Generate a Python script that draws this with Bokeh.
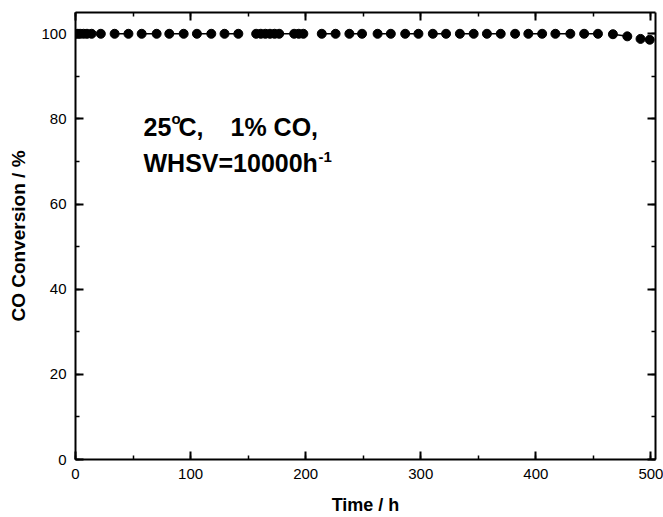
from bokeh.plotting import figure
from bokeh.models import LinearAxis, Range1d, SingleIntervalTicker, Label
from bokeh.embed import file_html
from bokeh.resources import INLINE

# ---------------- data ----------------
time_h = [0, 2, 4, 7, 10, 14,
          22,
          34, 46, 57.5, 70.5, 81.5, 94, 105.5, 118, 129.5, 141.5,
          157, 161, 165, 169, 173, 177, 190, 194, 198,
          214, 226, 238, 249, 262.5, 274, 286.5, 298, 310.5, 322,
          334, 346, 357.5, 369.5,
          382,
          393.5, 405.5, 417, 430, 442, 454, 467, 479.5, 491, 499]
conversion = [100, 100, 100, 100, 100, 100,
              100,
              100, 100, 100, 100, 100, 100, 100, 100, 100, 100,
              100, 100, 100, 100, 100, 100, 100, 100, 100,
              100, 100, 100, 100, 100, 100, 100, 100, 100, 100,
              100, 100, 100, 100,
              100,
              100, 100, 100, 100, 100, 100, 99.9, 99.4, 98.8, 98.6]
# measurement runs: points of one run are joined by a line
run_id = [0, 0, 0, 0, 0, 0,
          1,
          2, 2, 3, 3, 4, 4, 5, 5, 6, 6,
          7, 7, 7, 7, 7, 7, 7, 7, 7,
          8, 8, 9, 9, 10, 10, 11, 11, 12, 12,
          13, 13, 14, 14,
          15,
          16, 16, 17, 17, 18, 18, 19, 19, 20, 20]

x_major = 100
y_major = 20
x_lim = (0, 504)
y_lim = (0, 105)

x_title = "Time / h"
y_title = "CO Conversion / %"

# ---------------- layout constants ----------------
W, H = 663, 517
FL, FR, FT, FB = 75, 655, 12, 460   # frame edges in canvas px
FONT = "Liberation Sans"

p = figure(width=W, height=H, output_backend="svg", toolbar_location=None,
           x_range=Range1d(*x_lim), y_range=Range1d(*y_lim),
           x_axis_location=None, y_axis_location=None,
           min_border_left=FL, min_border_right=W - FR,
           min_border_top=FT, min_border_bottom=H - FB,
           background_fill_color="white", border_fill_color="white",
           margin=(0, 0, -8, 0))
p.grid.visible = False
p.outline_line_color = None


def style_axis(ax, show_labels):
    ax.axis_line_width = 2
    ax.axis_line_color = "black"
    ax.major_tick_line_color = "black"
    ax.minor_tick_line_color = "black"
    ax.major_tick_line_width = 2
    ax.minor_tick_line_width = 1.5
    ax.major_tick_in = 8
    ax.major_tick_out = 0
    ax.minor_tick_in = 4
    ax.minor_tick_out = 0
    ax.major_label_text_font = FONT
    if show_labels:
        ax.major_label_text_color = "black"
        ax.major_label_text_font_size = "15px"
        ax.major_label_standoff = 9
    else:
        ax.major_label_text_color = None
        ax.major_label_text_font_size = "0px"
        ax.major_label_standoff = 0
    return ax


xb = style_axis(LinearAxis(ticker=SingleIntervalTicker(interval=x_major, num_minor_ticks=2)), True)
xb.axis_label = x_title
xb.axis_label_text_font = FONT
xb.axis_label_text_font_style = "bold"
xb.axis_label_text_font_size = "18px"
xb.axis_label_text_color = "black"
xb.axis_label_standoff = 13
p.add_layout(xb, "below")

yl = style_axis(LinearAxis(ticker=SingleIntervalTicker(interval=y_major, num_minor_ticks=2)), True)
yl.axis_label = y_title
yl.axis_label_text_font = FONT
yl.axis_label_text_font_style = "bold"
yl.axis_label_text_font_size = "19px"
yl.axis_label_text_color = "black"
yl.axis_label_standoff = 9
p.add_layout(yl, "left")

xt = style_axis(LinearAxis(ticker=SingleIntervalTicker(interval=x_major, num_minor_ticks=2)), False)
p.add_layout(xt, "above")
yr = style_axis(LinearAxis(ticker=SingleIntervalTicker(interval=y_major, num_minor_ticks=2)), False)
p.add_layout(yr, "right")

# ---------------- data glyphs ----------------
xs, ys = [], []
for rid in sorted(set(run_id)):
    xs.append([t for t, r in zip(time_h, run_id) if r == rid])
    ys.append([c for c, r in zip(conversion, run_id) if r == rid])
p.multi_line(xs=xs, ys=ys, line_color="black", line_width=1.5)
p.scatter(x=time_h, y=conversion, marker="circle", size=9,
          fill_color="black", line_color="black")


# ---------------- text ----------------
def dx(page_x):
    return (page_x - FL) * (x_lim[1] - x_lim[0]) / (FR - FL) + x_lim[0]


def dy(page_y):
    return (FB - page_y) * (y_lim[1] - y_lim[0]) / (FB - FT) + y_lim[0]


def add_text(px, py, txt, size):
    p.add_layout(Label(x=dx(px), y=dy(py), text=txt, text_font=FONT,
                       text_font_style="bold", text_font_size=size,
                       text_color="black", text_baseline="alphabetic",
                       text_align="left"))


add_text(143, 127, "25", "25px")
add_text(171, 118.5, "o", "15px")
add_text(178, 127, "C,", "25px")
add_text(230, 127, "1% CO,", "25px")
add_text(143, 163, "WHSV=10000h", "25px")
add_text(318, 157, "-1", "15px")

open("out.html", "w").write(file_html(p, INLINE))
